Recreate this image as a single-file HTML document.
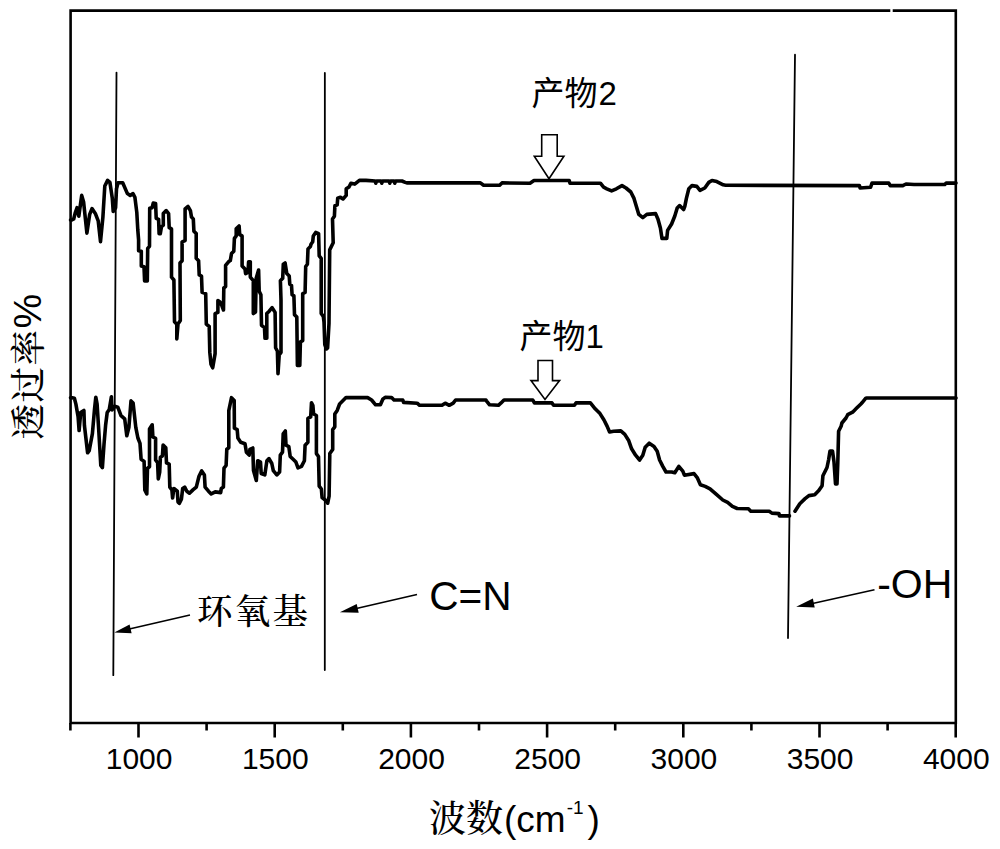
<!DOCTYPE html>
<html><head><meta charset="utf-8"><style>
html,body{margin:0;padding:0;background:#fff;}
body{width:1000px;height:849px;overflow:hidden;}
svg{display:block;}
.sans{font-family:"Liberation Sans","Noto Sans CJK SC",sans-serif;}
.serif{font-family:"Liberation Sans","Noto Serif CJK SC",serif;font-weight:500;}
</style></head><body>
<svg width="1000" height="849" viewBox="0 0 1000 849">
<rect width="1000" height="849" fill="#fff"/>
<!-- frame -->
<g stroke="#000" stroke-width="2.6" fill="none" stroke-linecap="square">
<polyline points="889,10.6 70.6,10.6 70.6,723 955.8,723 955.8,10.6 894,10.6"/>
</g>
<g stroke="#000" stroke-width="2.6" stroke-linecap="butt">
<line x1="70.4" y1="723" x2="70.4" y2="730.5"/><line x1="138.5" y1="723" x2="138.5" y2="737.5"/><line x1="206.6" y1="723" x2="206.6" y2="730.5"/><line x1="274.7" y1="723" x2="274.7" y2="737.5"/><line x1="342.8" y1="723" x2="342.8" y2="730.5"/><line x1="410.9" y1="723" x2="410.9" y2="737.5"/><line x1="479.0" y1="723" x2="479.0" y2="730.5"/><line x1="547.1" y1="723" x2="547.1" y2="737.5"/><line x1="615.2" y1="723" x2="615.2" y2="730.5"/><line x1="683.3" y1="723" x2="683.3" y2="737.5"/><line x1="751.4" y1="723" x2="751.4" y2="730.5"/><line x1="819.5" y1="723" x2="819.5" y2="737.5"/><line x1="887.6" y1="723" x2="887.6" y2="730.5"/><line x1="955.7" y1="723" x2="955.7" y2="737.5"/>
</g>
<g class="sans" font-size="30" fill="#000">
<text x="139.1" y="768.7" text-anchor="middle">1000</text><text x="275.3" y="768.7" text-anchor="middle">1500</text><text x="411.5" y="768.7" text-anchor="middle">2000</text><text x="547.7" y="768.7" text-anchor="middle">2500</text><text x="683.9" y="768.7" text-anchor="middle">3000</text><text x="820.1" y="768.7" text-anchor="middle">3500</text><text x="956.3" y="768.7" text-anchor="middle">4000</text>
</g>
<!-- spectra -->
<g stroke="#000" stroke-width="3.6" fill="none" stroke-linejoin="round" stroke-linecap="round">
<polyline points="70.5,220.0 71.8,220.0 73.7,219.0 75.1,213.4 77.0,207.7 78.8,216.2 81.7,195.4 83.6,202.0 86.9,233.1 89.7,214.3 92.0,208.6 95.3,213.4 98.2,220.9 100.5,241.6 102.9,217.1 104.8,186.0 107.6,180.4 109.9,182.3 112.3,198.3 113.2,211.5 115.6,207.7 116.5,188.8 118.0,182.7 122.7,182.7 127.4,193.6 130.2,195.4 133.0,193.6 134.9,197.3 136.8,212.4 137.8,230.0 138.6,240.0 138.6,250.8 141.3,251.3 141.3,266.1 144.0,266.8 144.6,281.0 147.3,281.0 147.7,248.4 149.5,246.3 149.7,208.3 152.1,207.7 153.3,203.0 155.6,203.5 156.2,218.3 158.6,219.4 159.1,233.6 160.3,233.6 161.5,226.5 163.3,225.3 163.3,213.6 166.2,210.6 168.6,213.6 169.2,227.7 171.5,228.9 171.5,277.2 173.9,280.0 174.5,321.8 176.8,324.2 176.8,338.9 178.0,324.0 180.3,320.6 180.0,263.0 182.1,260.7 182.1,241.8 185.1,240.6 185.1,208.8 188.0,206.5 190.4,210.6 191.5,217.1 193.3,218.9 193.9,231.2 196.2,233.6 196.2,258.3 198.6,260.7 199.2,274.8 201.5,276.0 202.1,292.4 205.7,293.6 206.3,324.2 209.2,326.5 209.8,352.4 211.0,364.2 212.7,367.8 215.1,353.6 215.1,313.6 217.9,312.4 217.9,300.6 220.0,302.0 222.0,306.0 223.5,310.0 223.8,288.0 225.6,286.6 225.6,265.4 228.5,261.8 230.3,260.6 231.5,253.6 233.8,251.2 234.4,238.3 236.2,235.9 236.2,228.8 239.1,225.9 239.7,234.7 242.1,235.9 242.1,265.9 245.0,268.9 245.6,273.6 248.0,272.4 248.6,261.8 250.3,261.8 250.3,277.1 253.3,280.7 253.3,313.6 255.5,312.0 256.2,278.3 258.6,270.1 259.2,291.3 260.9,294.7 261.5,325.3 264.5,327.7 265.0,338.3 266.8,338.3 266.8,313.6 269.2,311.2 272.1,307.7 275.1,312.4 275.6,347.7 277.4,351.2 278.0,373.6 279.2,354.8 281.0,352.4 281.0,300.0 280.4,280.7 282.7,278.3 283.3,264.2 285.1,263.0 286.8,273.6 289.2,276.0 289.8,284.2 291.5,285.4 292.1,294.8 293.9,295.9 294.5,314.7 296.8,317.1 297.4,365.4 299.8,365.4 300.4,341.8 302.7,340.6 302.7,293.6 305.1,292.4 305.7,266.5 307.4,264.2 308.0,248.9 310.4,246.5 311.0,244.2 312.7,241.8 313.3,235.9 315.7,232.4 318.6,233.6 319.2,255.9 321.2,258.4 321.2,313.5 323.3,316.4 324.0,322.0 324.8,344.7 326.5,349.0 327.6,348.0 329.0,323.4 329.7,249.9 333.2,242.8 332.5,219.0 334.4,216.2 334.9,205.8 337.2,204.9 337.7,198.3 340.5,197.3 343.0,199.0 346.2,195.4 346.2,188.8 349.0,187.0 350.9,183.2 354.7,184.1 359.4,180.4 366.0,180.4 375.0,181.0 375.8,183.2 376.6,181.0 381.0,181.0 381.8,183.2 382.6,181.0 389.0,181.0 389.8,183.2 390.6,181.0 394.0,181.0 394.8,183.2 395.6,181.0 402.0,181.0 405.2,182.4 406.8,182.9 480.4,182.9 483.6,185.3 499.6,185.3 502.0,182.9 530.0,183.2 534.0,180.5 569.2,180.5 570.0,183.2 600.4,183.2 603.6,187.2 606.8,188.8 611.6,190.9 616.4,188.8 622.0,185.6 626.0,188.0 630.8,192.0 634.0,198.4 636.4,206.4 638.8,214.4 642.8,217.6 646.8,214.4 655.6,213.6 658.0,219.2 660.4,228.0 662.0,238.4 666.8,238.4 667.6,230.4 671.6,224.0 674.8,216.0 677.2,208.0 679.6,205.6 683.6,209.6 684.8,206.4 686.4,198.4 688.8,188.8 692.0,185.6 696.8,186.4 700.0,190.4 704.8,188.0 708.8,182.4 712.0,180.5 716.8,181.6 723.2,184.8 725.6,185.3 859.4,185.6 860.1,188.0 870.6,187.3 872.0,183.1 888.8,183.1 890.2,185.6 902.8,185.6 906.0,184.0 914.0,184.5 944.8,184.5 946.2,183.1 956.0,183.1"/>
<polyline points="70.5,397.7 72.2,397.7 74.4,398.2 75.9,404.1 78.1,416.8 79.1,430.5 80.7,412.5 83.9,410.4 84.4,425.3 87.6,452.8 89.2,450.7 92.4,433.7 94.5,409.4 95.8,397.2 97.1,404.1 98.7,429.5 100.8,465.5 102.4,467.6 104.0,444.3 105.6,425.3 107.2,412.5 109.3,409.4 111.4,396.7 112.0,410.0 114.6,406.2 117.8,407.2 121.0,415.7 124.7,418.9 126.8,435.8 128.9,427.4 131.0,400.9 133.1,403.0 135.8,427.4 137.9,438.0 140.0,443.3 141.1,459.2 144.1,461.4 144.8,489.9 146.8,493.9 147.5,468.2 149.5,466.8 149.5,428.9 152.2,424.8 152.9,437.0 155.6,438.4 155.6,460.0 157.6,462.8 158.3,479.0 159.7,472.2 160.4,457.3 162.4,456.0 163.1,445.1 165.8,447.8 166.5,462.8 169.2,464.1 169.8,487.1 171.9,489.9 172.6,498.0 173.9,488.5 177.3,491.2 178.0,502.0 179.3,503.4 181.4,499.3 182.7,488.5 184.7,487.1 186.8,491.2 189.5,493.2 192.9,489.9 196.3,487.1 199.0,476.3 201.7,470.9 204.4,475.0 205.1,487.1 208.5,491.2 211.2,493.9 215.2,491.9 220.7,492.6 221.3,488.5 223.4,487.1 224.0,468.2 226.1,465.5 226.8,449.2 228.8,447.8 228.8,410.6 231.5,397.7 234.2,400.4 234.4,428.2 237.2,429.6 237.9,438.1 240.7,442.3 245.0,443.7 246.4,452.2 249.2,455.1 249.9,449.4 252.8,448.0 253.5,470.6 256.3,480.5 257.7,460.7 260.5,462.1 261.2,473.5 264.8,474.9 266.9,460.7 269.0,458.6 271.8,463.5 273.3,470.6 276.8,474.9 279.6,472.0 280.3,455.1 282.5,452.2 283.2,433.8 285.3,431.0 286.0,445.2 288.8,446.6 290.2,456.5 293.1,459.3 295.9,462.1 298.0,467.8 301.5,466.4 304.4,460.7 305.1,445.2 307.9,442.3 307.9,418.3 310.7,416.9 311.5,402.7 312.9,405.6 313.6,414.0 316.4,415.5 316.4,453.6 318.5,456.5 319.2,486.2 321.4,489.0 322.1,497.5 325.6,500.3 327.7,503.2 329.1,496.1 329.8,453.6 332.7,449.4 332.7,429.6 334.8,426.8 334.8,414.0 337.2,410.4 339.6,404.0 342.8,400.8 346.0,397.6 367.6,397.6 371.6,400.0 375.6,404.8 380.4,404.8 382.8,399.2 385.2,397.3 391.6,397.6 394.0,400.0 402.8,400.0 403.6,402.4 417.2,403.2 419.6,405.3 442.0,405.3 445.2,403.2 449.2,405.3 453.2,403.2 455.6,400.0 486.0,400.0 486.4,400.8 489.6,404.8 498.4,405.3 500.8,403.2 504.0,400.0 532.8,400.0 534.4,402.9 552.0,402.9 553.6,405.3 574.4,405.3 576.0,402.9 590.4,402.9 595.2,408.8 600.0,413.6 604.0,420.0 607.2,426.4 609.6,432.0 613.6,431.2 620.8,430.9 624.8,434.4 628.8,440.8 631.6,448.8 635.6,455.2 639.6,460.0 642.8,455.2 645.2,447.2 649.2,443.2 654.0,446.4 657.2,451.2 659.6,460.0 662.8,466.4 666.0,472.0 671.6,472.0 674.8,472.8 678.8,466.4 682.8,471.2 684.4,475.2 694.0,473.6 697.2,477.6 700.4,484.8 705.2,486.4 710.0,488.8 716.4,494.4 722.8,500.0 727.6,502.4 732.4,506.4 737.2,508.5 748.4,508.8 750.8,511.2 769.2,511.2 771.9,513.1 779.0,513.6 779.4,515.9 789.5,515.9"/>
<polyline points="795.0,511.2 799.8,503.8 804.8,498.9 808.9,495.6 814.7,494.7 818.8,490.6 822.1,485.7 822.9,475.8 825.4,470.8 827.0,467.5 828.7,459.3 830.0,451.0 832.5,451.0 834.0,462.0 835.5,484.0 837.0,484.0 837.8,462.6 838.6,431.2 841.1,426.3 841.9,423.0 846.0,418.0 847.7,414.7 852.6,412.2 856.7,408.1 860.9,404.0 862.0,402.8 865.8,398.2 866.8,398.0 956.0,398.0"/>
</g>
<!-- vertical marker lines -->
<g stroke="#000" stroke-width="1.8" fill="none" stroke-linecap="round">
<line x1="116.5" y1="72.6" x2="113.3" y2="675.2"/>
<line x1="324.85" y1="73" x2="324.8" y2="670.1"/>
<line x1="795" y1="54.7" x2="788" y2="638"/>
</g>
<!-- annotation arrows -->
<g stroke="#000" stroke-width="1.5" fill="none">
<line x1="190" y1="615" x2="125" y2="630"/>
<line x1="417" y1="594.5" x2="352" y2="609.5"/>
<line x1="874.5" y1="589.8" x2="808" y2="604.5"/>
</g>
<g fill="#000" stroke="none">
<polygon points="114.3,632.6 131.6,633.3 129.6,624.5"/>
<polygon points="339.9,612.2 358.7,612.7 356.7,603.9"/>
<polygon points="796.2,606.7 814.7,607.5 812.9,598.5"/>
</g>
<!-- hollow arrows -->
<g fill="#fff" stroke="#000" stroke-width="1.6" stroke-linejoin="miter">
<polygon points="541.7,134.7 557.2,134.7 557.2,156.2 563.9,156.2 549,178.8 534.3,156.2 541.7,156.2"/>
<polygon points="538,360.5 552.5,360.5 552.5,380.6 559.6,380.6 545,399.4 531,380.6 538,380.6"/>
</g>
<!-- labels -->
<g class="sans" fill="#000">
<text x="531.5" y="104.5" font-size="33">产物<tspan dx="1">2</tspan></text>
<text x="519.5" y="347.5" font-size="33">产物1</text>
<text x="429.3" y="610.3" font-size="40.6">C=N</text>
<text x="877.2" y="598" font-size="41">-OH</text>
</g>
<g class="serif" fill="#000">
<text x="197" y="624" font-size="35.5" letter-spacing="2.2">环氧基</text>
<text x="429" y="832" font-size="37">波数<tspan dx="1">(cm</tspan><tspan font-size="19" dx="1" dy="-18.5">-1</tspan><tspan dx="4" dy="18.5">)</tspan></text>
<text transform="translate(40.5,439.5) rotate(-90)" font-size="35.5" letter-spacing="1.5">透过率<tspan font-size="39" dx="0">%</tspan></text>
</g>
</svg>
</body></html>
